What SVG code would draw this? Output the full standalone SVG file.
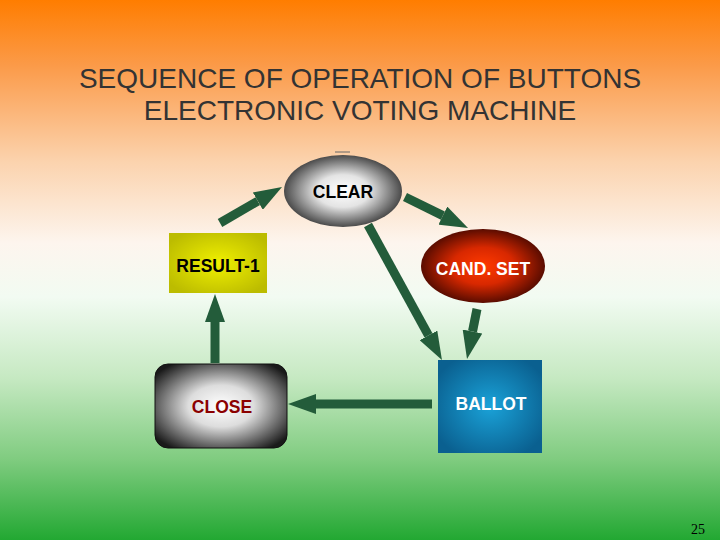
<svg xmlns="http://www.w3.org/2000/svg" width="720" height="540" viewBox="0 0 720 540">
<defs>
<linearGradient id="bg" x1="0" y1="0" x2="0" y2="1">
<stop offset="0" stop-color="#ff7d00"/>
<stop offset="0.12" stop-color="#fb9a48"/>
<stop offset="0.3" stop-color="#fbd3ae"/>
<stop offset="0.45" stop-color="#fdf5ee"/>
<stop offset="0.55" stop-color="#f2fbf2"/>
<stop offset="0.7" stop-color="#c6e9c2"/>
<stop offset="0.85" stop-color="#80cc80"/>
<stop offset="1" stop-color="#22a832"/>
</linearGradient>
<radialGradient id="gGray" cx="0.5" cy="0.5" r="0.5">
<stop offset="0" stop-color="#ffffff"/>
<stop offset="0.45" stop-color="#e4e4e4"/>
<stop offset="1" stop-color="#4a4a4a"/>
</radialGradient>
<radialGradient id="gRed" cx="0.5" cy="0.5" r="0.5">
<stop offset="0" stop-color="#ff3a00"/>
<stop offset="0.5" stop-color="#d82800"/>
<stop offset="1" stop-color="#5a0c00"/>
</radialGradient>
<radialGradient id="gYellow" cx="0.5" cy="0.5" r="0.6">
<stop offset="0" stop-color="#f0f000"/>
<stop offset="1" stop-color="#bcbc00"/>
</radialGradient>
<radialGradient id="gClose" cx="0.5" cy="0.5" r="0.62">
<stop offset="0" stop-color="#ffffff"/>
<stop offset="0.4" stop-color="#dddddd"/>
<stop offset="1" stop-color="#1a1a1a"/>
</radialGradient>
<radialGradient id="gBlue" cx="0.5" cy="0.5" r="0.6">
<stop offset="0" stop-color="#1aa2d8"/>
<stop offset="1" stop-color="#0a6090"/>
</radialGradient>
<marker id="ah" markerUnits="userSpaceOnUse" viewBox="0 0 28 20" markerWidth="28" markerHeight="20" refX="0" refY="10" orient="auto">
<path d="M0,0 L28,10 L0,20 z" fill="#235c3a"/>
</marker>
<style>
.lbl{font-family:"Liberation Sans",Arial,sans-serif;font-weight:bold;font-size:17.5px;text-anchor:middle}
.title{font-family:"Liberation Sans",Arial,sans-serif;font-size:28px;fill:#333333;text-anchor:middle}
.conn line{stroke:#235c3a;stroke-width:9;marker-end:url(#ah)}
</style>
</defs>
<rect x="0" y="0" width="720" height="540" fill="url(#bg)"/>
<text class="title" x="360" y="88">SEQUENCE OF OPERATION OF BUTTONS</text>
<text class="title" x="360" y="120">ELECTRONIC VOTING MACHINE</text>
<line x1="335" y1="152" x2="350" y2="152" stroke="#666" stroke-width="1"/>
<g id="connectors" class="conn">
<line x1="220" y1="223" x2="257.8" y2="201.1"/>
<line x1="405" y1="197" x2="442.9" y2="215.6"/>
<line x1="368" y1="225" x2="428.5" y2="335.4"/>
<line x1="477" y1="309" x2="472.5" y2="331.5"/>
<line x1="432" y1="404" x2="316" y2="404"/>
<line x1="215" y1="363" x2="215" y2="322"/>
</g>
<g id="clear">
<ellipse cx="343" cy="191" rx="59" ry="36" fill="url(#gGray)"/>
<text class="lbl" x="343" y="198" fill="#000">CLEAR</text>
</g>
<g id="result1">
<rect x="169" y="233" width="98" height="60" fill="url(#gYellow)"/>
<text class="lbl" x="218" y="272" fill="#000" font-size="16.5">RESULT-1</text>
</g>
<g id="candset">
<ellipse cx="483" cy="266" rx="62" ry="37" fill="url(#gRed)"/>
<text class="lbl" x="483" y="275" fill="#fff">CAND. SET</text>
</g>
<g id="close">
<rect x="155" y="364" width="132" height="84" rx="13" ry="13" fill="url(#gClose)" stroke="#111" stroke-width="1"/>
<text class="lbl" x="222" y="413" fill="#8b0000">CLOSE</text>
</g>
<g id="ballot">
<rect x="438" y="360" width="104" height="93" fill="url(#gBlue)"/>
<text class="lbl" x="491" y="410" fill="#fff">BALLOT</text>
</g>
<text x="698" y="534" font-family="'Liberation Serif',serif" font-size="14" fill="#000" text-anchor="middle">25</text>
</svg>
